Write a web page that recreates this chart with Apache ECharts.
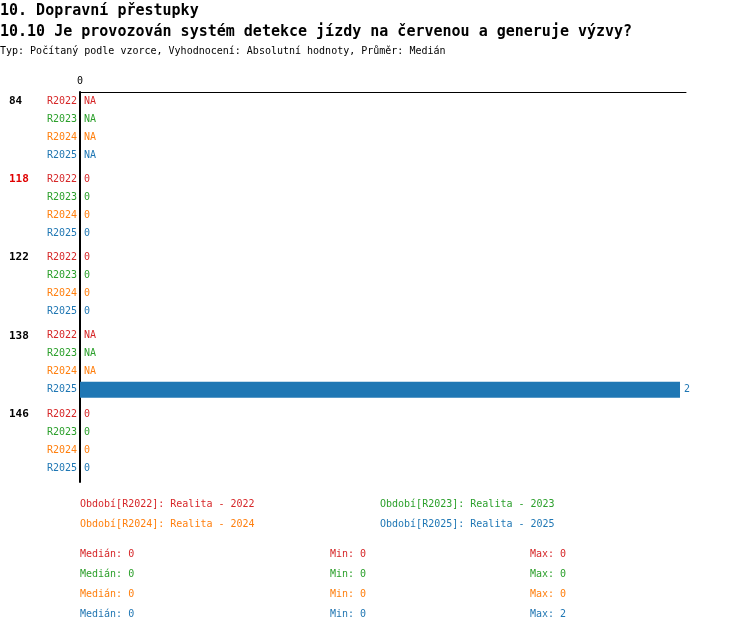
<!DOCTYPE html>
<html><head><meta charset="utf-8">
<script src="https://cdn.jsdelivr.net/npm/echarts@6/dist/echarts.min.js"></script>
<style>html,body{margin:0;padding:0;background:#fff}#c{width:750px;height:632px}</style>
</head><body><div id="c"></div>
<script>
const categories = ['84', '118', '122', '138', '146'];
const highlighted = ['118'];
const periods = ['R2022', 'R2023', 'R2024', 'R2025'];
const periodNames = ['Realita - 2022', 'Realita - 2023', 'Realita - 2024', 'Realita - 2025'];
const r2022 = [null, 0, 0, null, 0];
const r2023 = [null, 0, 0, null, 0];
const r2024 = [null, 0, 0, null, 0];
const r2025 = [null, 0, 0, 2, 0];
const xTicks = [0];

const seriesValues = [r2022, r2023, r2024, r2025];
const colors = ['#d62728', '#2ca02c', '#ff7f0e', '#1f77b4'];
const FONT = 'DejaVu Sans Mono';
const X_MAX = 2.02;

const rowH = 18, groupPitch = 78.25, firstTop = 92;
const gridLeft = 80, gridRight = 64;

const grids = [{ left: gridLeft, right: gridRight, top: 92, height: 390 }];
const xAxes = [{
  gridIndex: 0, type: 'value', position: 'top', min: 0, max: X_MAX,
  axisLine: { show: true, onZero: false, lineStyle: { color: '#000', width: 1 } },
  axisTick: { show: false }, splitLine: { show: false },
  axisLabel: { show: true, margin: 6, fontFamily: FONT, fontSize: 10, color: '#000',
    customValues: xTicks, formatter: v => String(v) }
}];
const yAxes = [{
  gridIndex: 0, type: 'value', min: 0, max: 1,
  axisLine: { show: true, onZero: false, lineStyle: { color: '#000', width: 2 } },
  axisTick: { show: false }, axisLabel: { show: false }, splitLine: { show: false }
}];
const series = [];

const rich = {
  g: { width: 38, align: 'left', fontFamily: FONT, fontSize: 11, fontWeight: 'bold', color: '#000' },
  gh: { width: 38, align: 'left', fontFamily: FONT, fontSize: 11, fontWeight: 'bold', color: '#e00000' }
};
periods.forEach((p, i) => {
  rich['p' + i] = { fontFamily: FONT, fontSize: 10, color: colors[i] };
});

categories.forEach((cat, g) => {
  const gi = g + 1;
  grids.push({ left: gridLeft, right: gridRight, top: firstTop + g * groupPitch, height: rowH * periods.length });
  xAxes.push({ gridIndex: gi, type: 'value', min: 0, max: X_MAX, show: false });
  yAxes.push({
    gridIndex: gi, type: 'category', inverse: true, data: periods,
    axisLine: { show: false }, axisTick: { show: false }, splitLine: { show: false },
    axisLabel: {
      margin: 3,
      formatter: (val, idx) => {
        const pi = periods.indexOf(val);
        if (pi === 0) {
          const st = highlighted.includes(cat) ? 'gh' : 'g';
          return '{' + st + '|' + cat + '}{p' + pi + '|' + val + '}';
        }
        return '{p' + pi + '|' + val + '}';
      },
      rich: rich
    }
  });
  series.push({
    type: 'bar', xAxisIndex: gi, yAxisIndex: gi, barWidth: 16,
    data: periods.map((p, i) => {
      const v = seriesValues[i][g];
      return {
        value: v == null ? 0 : v,
        itemStyle: { color: colors[i] },
        label: { show: true, position: 'right', distance: 4, fontFamily: FONT, fontSize: 10,
          color: colors[i], formatter: v == null ? 'NA' : String(v) }
      };
    })
  });
});

function stats(arr) {
  const a = arr.filter(v => v != null).slice().sort((x, y) => x - y);
  const n = a.length;
  const med = n % 2 ? a[(n - 1) / 2] : (a[n / 2 - 1] + a[n / 2]) / 2;
  return { med: med, min: a[0], max: a[n - 1] };
}

const titles = [
  { text: '10. Dopravní přestupky', left: 0, top: 4, padding: 0,
    textStyle: { fontFamily: FONT, fontSize: 15, fontWeight: 'bold', color: '#000' } },
  { text: '10.10 Je provozován systém detekce jízdy na červenou a generuje výzvy?', left: 0, top: 25, padding: 0,
    textStyle: { fontFamily: FONT, fontSize: 15, fontWeight: 'bold', color: '#000' } },
  { text: 'Typ: Počítaný podle vzorce, Vyhodnocení: Absolutní hodnoty, Průměr: Medián', left: 0, top: 46, padding: 0,
    textStyle: { fontFamily: FONT, fontSize: 10, fontWeight: 'normal', color: '#000' } }
];
periods.forEach((p, i) => {
  titles.push({ text: 'Období[' + p + ']: ' + periodNames[i], left: i % 2 ? 380 : 80, top: 499 + Math.floor(i / 2) * 20, padding: 0,
    textStyle: { fontFamily: FONT, fontSize: 10, fontWeight: 'normal', color: colors[i] } });
  const s = stats(seriesValues[i]);
  const top = 549 + i * 20;
  const ts = { fontFamily: FONT, fontSize: 10, fontWeight: 'normal', color: colors[i] };
  titles.push({ text: 'Medián: ' + s.med, left: 80, top: top, padding: 0, textStyle: ts });
  titles.push({ text: 'Min: ' + s.min, left: 330, top: top, padding: 0, textStyle: ts });
  titles.push({ text: 'Max: ' + s.max, left: 530, top: top, padding: 0, textStyle: ts });
});

const chart = echarts.init(document.getElementById('c'), null, { renderer: 'canvas' });
chart.setOption({
  animation: false,
  backgroundColor: '#fff',
  title: titles,
  grid: grids,
  xAxis: xAxes,
  yAxis: yAxes,
  series: series
});
</script></body></html>
